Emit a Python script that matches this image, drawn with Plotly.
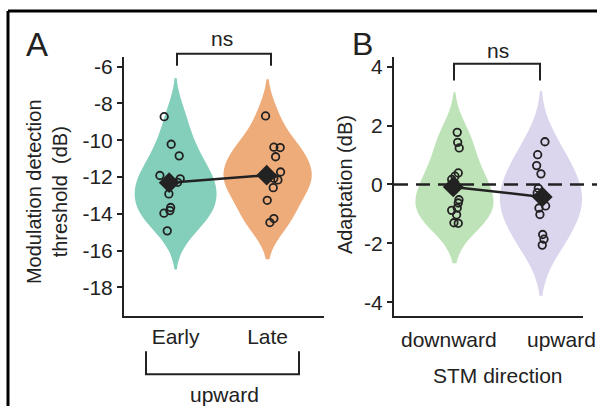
import numpy as np
import plotly.graph_objects as go

# ---------------- data ----------------
groups_a = ["Early", "Late"]
early = [-8.72, -10.22, -10.85, -11.92, -12.10, -12.29, -12.92, -13.66, -13.83, -13.97, -14.93]
late = [-8.68, -10.38, -10.40, -10.90, -11.73, -12.07, -12.16, -12.58, -13.27, -14.26, -14.48]
early_jit = [-0.124, -0.048, 0.039, -0.171, 0.05, 0.022, -0.073, -0.054, -0.062, -0.127, -0.091]
late_jit = [-0.022, 0.068, 0.137, 0.087, 0.141, 0.068, 0.112, 0.061, -0.004, 0.068, 0.025]

groups_b = ["downward", "upward"]
down = [1.77, 1.43, 1.24, 0.39, 0.28, 0.17, 0.03, -0.52, -0.63, -0.80, -0.88, -1.03, -1.30, -1.32]
up = [1.45, 1.01, 0.64, 0.36, -0.13, -0.28, -0.40, -0.73, -0.80, -1.02, -1.70, -1.86, -2.06]
down_jit = [0.032, 0.037, 0.055, 0.044, 0.006, -0.032, 0.006, 0.052, 0.044, 0.032, -0.032, 0.025, -0.006, 0.044]
up_jit = [0.046, -0.038, -0.05, 0.0, -0.031, -0.043, -0.012, 0.054, -0.023, -0.012, 0.02, 0.035, 0.015]

yticks_a = [-6, -8, -10, -12, -14, -16, -18]
yticks_b = [-4, -2, 0, 2, 4]

# ---------------- style ----------------
W, H = 597, 406
FONT = "Liberation Sans, Arial, sans-serif"
INK = "#222222"
col_a = ["#84cfbb", "#efac7b"]
col_b = ["#bfe3b8", "#dcd5ee"]


def fx(px):
    return px / W


def fy(py):
    return 1 - py / H


fig = go.Figure()


def add_panel(vals_list, jit_list, colors, bws, widths, mean_off, xa, ya):
    for i, (vals, col, bw, wd) in enumerate(zip(vals_list, colors, bws, widths)):
        fig.add_trace(go.Violin(
            y=vals, x0=i, xaxis=xa, yaxis=ya, width=wd, bandwidth=bw,
            spanmode="soft", scalemode="width", fillcolor=col,
            line=dict(width=0, color=col), points=False,
            box_visible=False, meanline_visible=False, opacity=1,
            hoverinfo="skip", showlegend=False))
    for i, (vals, jit) in enumerate(zip(vals_list, jit_list)):
        fig.add_trace(go.Scatter(
            x=[i + j for j in jit], y=vals, xaxis=xa, yaxis=ya, mode="markers",
            marker=dict(symbol="circle-open", size=7.5, color=INK, line=dict(width=1.8, color=INK)),
            showlegend=False, hoverinfo="skip"))
    means = [float(np.mean(v)) for v in vals_list]
    fig.add_trace(go.Scatter(
        x=[i + o for i, o in enumerate(mean_off)], y=means, xaxis=xa, yaxis=ya,
        mode="lines+markers", line=dict(color=INK, width=2.5),
        marker=dict(symbol="diamond", size=16, color=INK),
        showlegend=False, hoverinfo="skip"))


add_panel([early, late], [early_jit, late_jit], col_a, [1.05, 1.0], [0.89, 0.96], [-0.07, -0.01], "x", "y")
add_panel([down, up], [down_jit, up_jit], col_b, [0.68, 0.86], [0.90, 0.95], [-0.014, 0.015], "x2", "y2")

axis_common = dict(showgrid=False, zeroline=False, showline=True, linecolor=INK, linewidth=2,
                   tickfont=dict(family=FONT, size=21, color=INK))
ydom = [fy(316), fy(55)]

fig.update_layout(
    width=W, height=H, margin=dict(l=0, r=0, t=0, b=0),
    paper_bgcolor="white", plot_bgcolor="white", violinmode="overlay",
    font=dict(family=FONT, color=INK),
    xaxis=dict(domain=[fx(124), fx(324)], range=[-0.561, 1.613], anchor="y", type="linear",
               tickvals=[0, 1], ticktext=groups_a, ticks="", **axis_common),
    yaxis=dict(domain=ydom, range=[-19.586, -5.459], anchor="x", tickvals=yticks_a,
               ticktext=[str(v) for v in yticks_a],
               ticks="outside", ticklen=5, tickwidth=1.5, tickcolor=INK, **axis_common),
    xaxis2=dict(domain=[fx(394), fx(583)], range=[-0.699, 1.486], anchor="y2", type="linear",
                showticklabels=False, ticks="", **axis_common),
    yaxis2=dict(domain=ydom, range=[-4.483, 4.338], anchor="x2", tickvals=yticks_b,
                ticktext=[str(v) for v in yticks_b],
                ticks="outside", ticklen=5, tickwidth=1.5, tickcolor=INK, **axis_common),
)

ann = []


def txt(x, y, s, size, angle=0):
    ann.append(dict(x=fx(x), y=fy(y), xref="paper", yref="paper", text=s, showarrow=False,
                    xanchor="center", yanchor="middle", textangle=angle,
                    font=dict(family=FONT, size=size, color=INK)))


txt(37, 43, "A", 33)
txt(362, 42, "B", 32)
txt(222, 37, "ns", 21)
txt(498, 49, "ns", 21)
txt(224, 394, "upward", 21)
txt(449, 339, groups_b[0], 21)
txt(561, 339, groups_b[1], 21)
txt(498, 375, "STM direction", 21)
txt(47, 191, "Modulation detection<br>threshold  (dB)", 20, -90)
txt(345, 183, "Adaptation (dB)", 20, -90)
fig.update_layout(annotations=ann)


def path(pts):
    return "M " + " L ".join(f"{fx(a):.5f},{fy(b):.5f}" for a, b in pts)


shapes = [
    dict(type="path", xref="paper", yref="paper", path=path([(177, 64), (177, 52), (271, 52), (271, 64)]),
         line=dict(color=INK, width=2)),
    dict(type="path", xref="paper", yref="paper", path=path([(454, 79), (454, 62), (540, 62), (540, 79)]),
         line=dict(color=INK, width=2)),
    dict(type="path", xref="paper", yref="paper", path=path([(146, 351), (146, 374), (299, 374), (299, 351)]),
         line=dict(color=INK, width=2)),
    dict(type="line", xref="paper", yref="y2", x0=fx(394), x1=1.0, y0=0, y1=0,
         line=dict(color=INK, width=2.5, dash="14px,8px")),
    dict(type="line", xref="paper", yref="paper", x0=fx(8), x1=1.0, y0=fy(9), y1=fy(9),
         line=dict(color="black", width=3)),
    dict(type="line", xref="paper", yref="paper", x0=fx(8), x1=fx(8), y0=fy(9), y1=0,
         line=dict(color="black", width=3)),
]
fig.update_layout(shapes=shapes)

fig.write_html("out.html")
